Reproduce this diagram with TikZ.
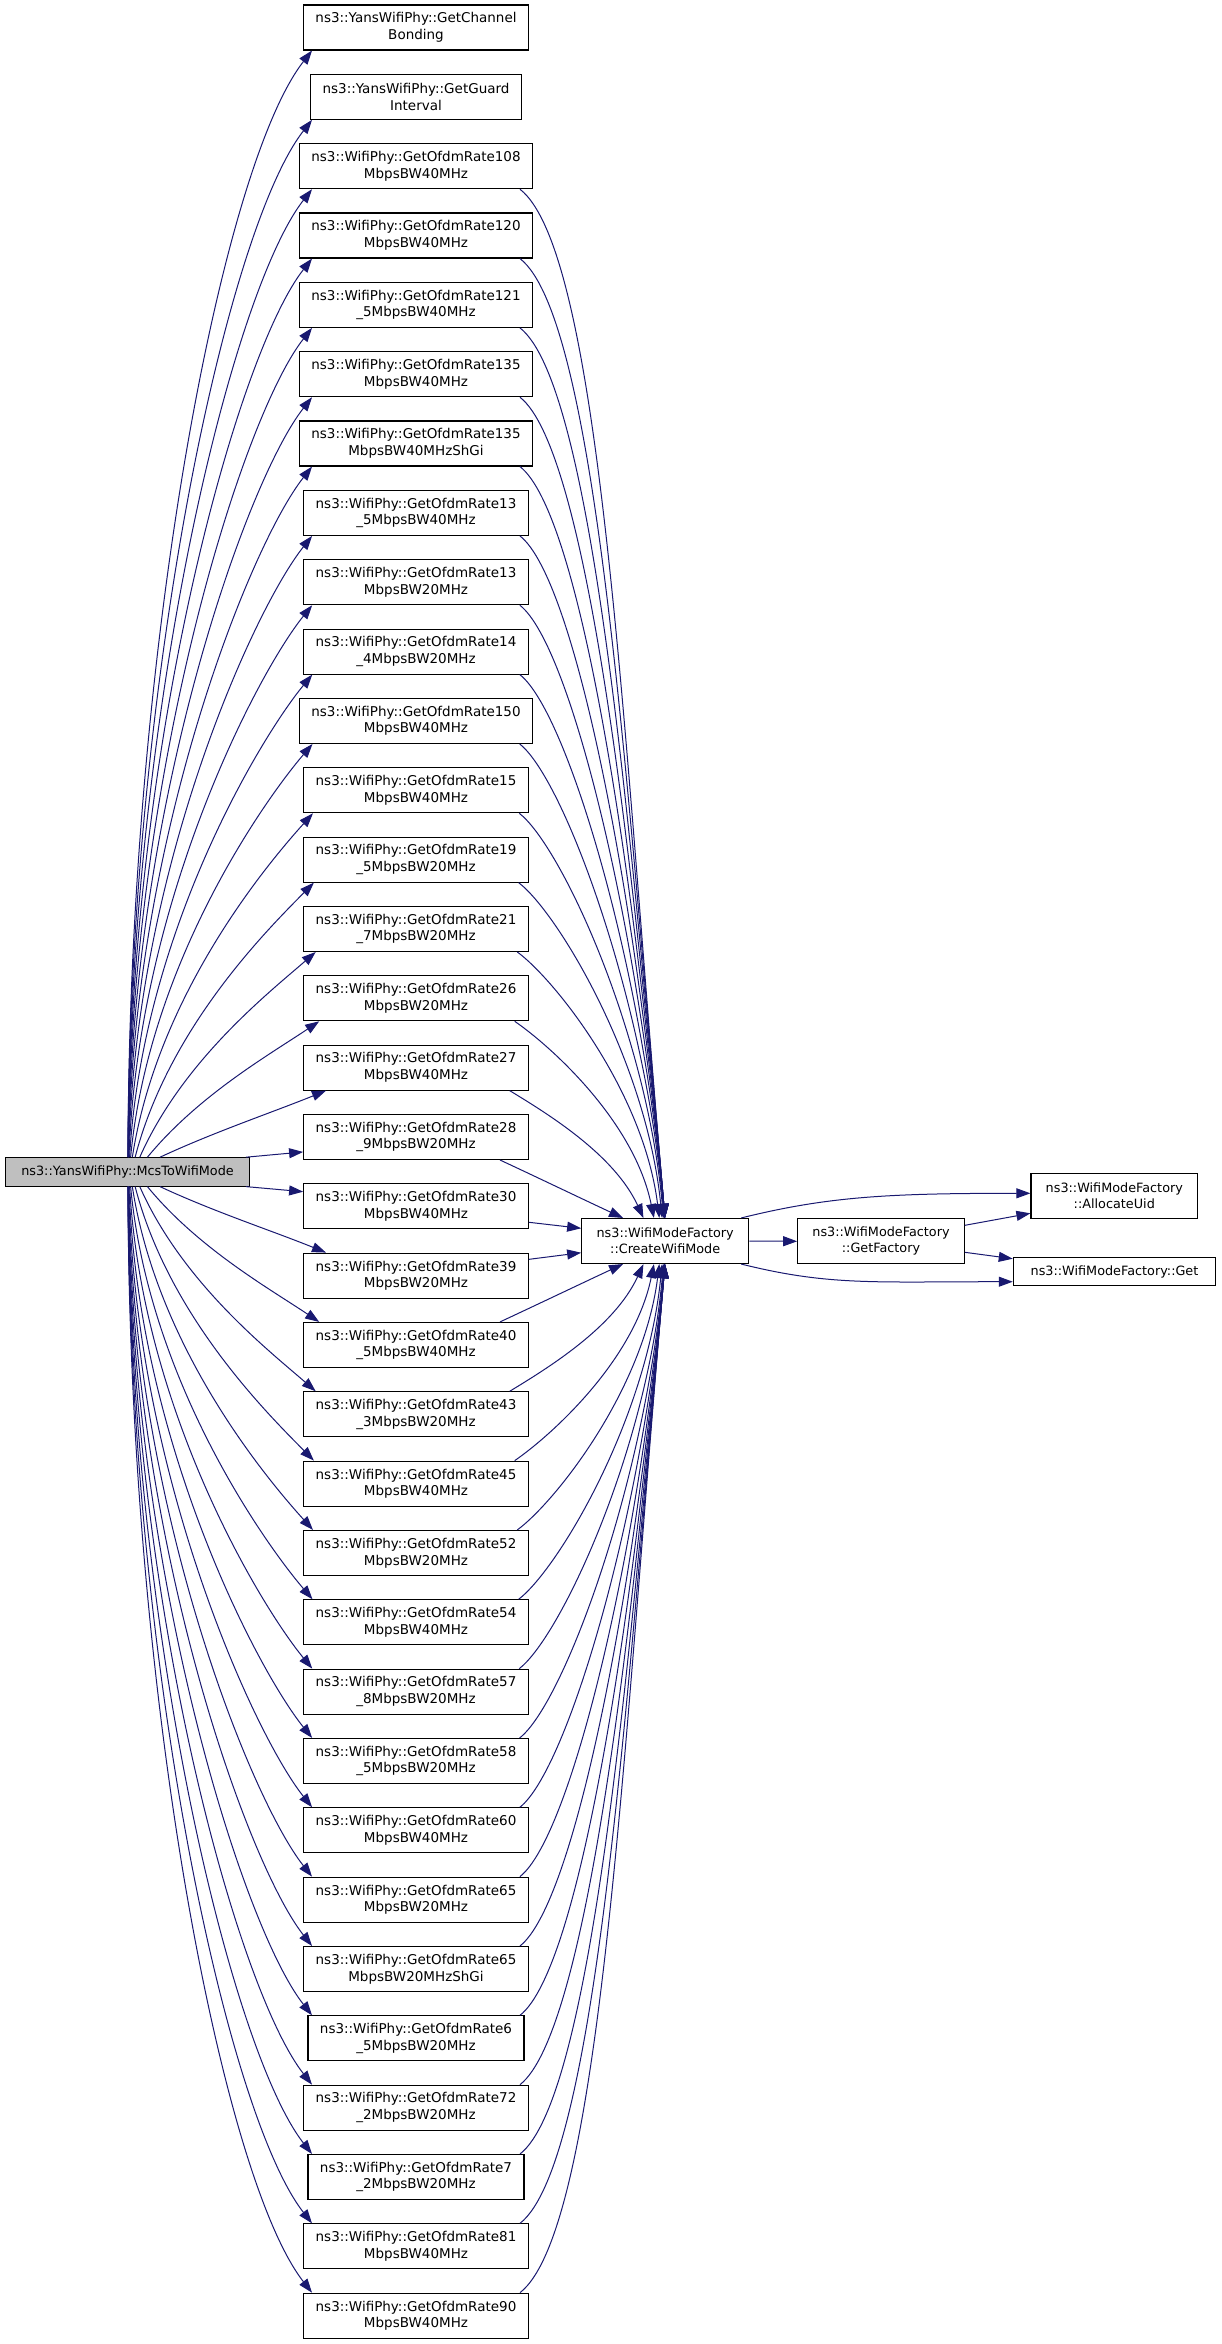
\documentclass[tikz,border=0pt]{standalone}
\usepackage{fontspec}
\setmainfont{DejaVu Sans}
\usetikzlibrary{arrows.meta,calc}
\definecolor{edgec}{HTML}{191970}
\definecolor{lgray}{HTML}{BFBFBF}
\begin{document}
\begin{tikzpicture}[x=1pt,y=1pt,
  box/.style={draw=black, line width=1.1pt, fill=white, align=center, inner xsep=12pt, inner ysep=0pt, minimum height=45pt, font=\fontsize{13.5}{16.7}\selectfont},
  sbox/.style={box, inner xsep=2pt, font=\fontsize{12.8}{16.2}\selectfont},
  edge/.style={draw=edgec, line width=1pt, -{Triangle[length=14pt,width=10pt]}}]
\useasboundingbox (0,0) rectangle (1221,-2344);

\node[sbox, fill=lgray, minimum width=243.6pt, minimum height=28.3pt] (L) at (127.5,-1171.9) {ns3::YansWifiPhy::McsToWifiMode};

\node[box] (B0) at (416,-27.5) {ns3::YansWifiPhy::GetChannel\\Bonding};
\node[box] (B1) at (416,-96.84) {ns3::YansWifiPhy::GetGuard\\Interval};
\node[box] (B2) at (416,-166.18) {ns3::WifiPhy::GetOfdmRate108\\MbpsBW40MHz};
\node[box] (B3) at (416,-235.52) {ns3::WifiPhy::GetOfdmRate120\\MbpsBW40MHz};
\node[box] (B4) at (416,-304.86) {ns3::WifiPhy::GetOfdmRate121\\\_5MbpsBW40MHz};
\node[box] (B5) at (416,-374.2) {ns3::WifiPhy::GetOfdmRate135\\MbpsBW40MHz};
\node[box] (B6) at (416,-443.54) {ns3::WifiPhy::GetOfdmRate135\\MbpsBW40MHzShGi};
\node[box] (B7) at (416,-512.88) {ns3::WifiPhy::GetOfdmRate13\\\_5MbpsBW40MHz};
\node[box] (B8) at (416,-582.22) {ns3::WifiPhy::GetOfdmRate13\\MbpsBW20MHz};
\node[box] (B9) at (416,-651.56) {ns3::WifiPhy::GetOfdmRate14\\\_4MbpsBW20MHz};
\node[box] (B10) at (416,-720.9) {ns3::WifiPhy::GetOfdmRate150\\MbpsBW40MHz};
\node[box] (B11) at (416,-790.24) {ns3::WifiPhy::GetOfdmRate15\\MbpsBW40MHz};
\node[box] (B12) at (416,-859.58) {ns3::WifiPhy::GetOfdmRate19\\\_5MbpsBW20MHz};
\node[box] (B13) at (416,-928.92) {ns3::WifiPhy::GetOfdmRate21\\\_7MbpsBW20MHz};
\node[box] (B14) at (416,-998.26) {ns3::WifiPhy::GetOfdmRate26\\MbpsBW20MHz};
\node[box] (B15) at (416,-1067.6) {ns3::WifiPhy::GetOfdmRate27\\MbpsBW40MHz};
\node[box] (B16) at (416,-1136.94) {ns3::WifiPhy::GetOfdmRate28\\\_9MbpsBW20MHz};
\node[box] (B17) at (416,-1206.28) {ns3::WifiPhy::GetOfdmRate30\\MbpsBW40MHz};
\node[box] (B18) at (416,-1275.62) {ns3::WifiPhy::GetOfdmRate39\\MbpsBW20MHz};
\node[box] (B19) at (416,-1344.96) {ns3::WifiPhy::GetOfdmRate40\\\_5MbpsBW40MHz};
\node[box] (B20) at (416,-1414.3) {ns3::WifiPhy::GetOfdmRate43\\\_3MbpsBW20MHz};
\node[box] (B21) at (416,-1483.64) {ns3::WifiPhy::GetOfdmRate45\\MbpsBW40MHz};
\node[box] (B22) at (416,-1552.98) {ns3::WifiPhy::GetOfdmRate52\\MbpsBW20MHz};
\node[box] (B23) at (416,-1622.32) {ns3::WifiPhy::GetOfdmRate54\\MbpsBW40MHz};
\node[box] (B24) at (416,-1691.66) {ns3::WifiPhy::GetOfdmRate57\\\_8MbpsBW20MHz};
\node[box] (B25) at (416,-1761.0) {ns3::WifiPhy::GetOfdmRate58\\\_5MbpsBW20MHz};
\node[box] (B26) at (416,-1830.34) {ns3::WifiPhy::GetOfdmRate60\\MbpsBW40MHz};
\node[box] (B27) at (416,-1899.68) {ns3::WifiPhy::GetOfdmRate65\\MbpsBW20MHz};
\node[box] (B28) at (416,-1969.02) {ns3::WifiPhy::GetOfdmRate65\\MbpsBW20MHzShGi};
\node[box] (B29) at (416,-2038.36) {ns3::WifiPhy::GetOfdmRate6\\\_5MbpsBW20MHz};
\node[box] (B30) at (416,-2107.7) {ns3::WifiPhy::GetOfdmRate72\\\_2MbpsBW20MHz};
\node[box] (B31) at (416,-2177.04) {ns3::WifiPhy::GetOfdmRate7\\\_2MbpsBW20MHz};
\node[box] (B32) at (416,-2246.38) {ns3::WifiPhy::GetOfdmRate81\\MbpsBW40MHz};
\node[box] (B33) at (416,-2315.72) {ns3::WifiPhy::GetOfdmRate90\\MbpsBW40MHz};

\node[sbox, minimum width=167pt] (C) at (665.2,-1241) {ns3::WifiModeFactory\\::CreateWifiMode};
\node[sbox, minimum width=166.6pt] (F) at (881,-1241.3) {ns3::WifiModeFactory\\::GetFactory};
\node[sbox, minimum width=166.7pt] (A) at (1114.3,-1196) {ns3::WifiModeFactory\\::AllocateUid};
\node[sbox, minimum width=202.4pt, minimum height=28pt] (G) at (1114.5,-1271.7) {ns3::WifiModeFactory::Get};

% left fan, upper
\foreach \i in {0,...,15} {
  \pgfmathsetmacro\kk{15-\i}
  \pgfmathsetmacro\eA{exp(-min(\kk/2,8))}
  \pgfmathsetmacro\eB{exp(-min(\kk/1.5,8))}
  \pgfmathsetmacro\eC{exp(-min(\kk/3,8))}
  \pgfmathsetmacro\sxa{128+32*\eA}
  \pgfmathsetmacro\exa{312+14*\eB}
  \pgfmathsetmacro\sxx{\sxa-127.5}
  \pgfmathsetmacro\exx{\exa-416}
  \pgfmathsetmacro\byy{27.5+69.34*\i+22.5}
  \pgfmathsetmacro\chh{100*veclen((\exa-\sxa)/100,(1157.8-\byy)/100)}
  \pgfmathsetmacro\aoo{90-65*\eA}
  \pgfmathsetmacro\aii{180+52-30*\eA}
  \pgfmathsetmacro\daa{\chh*(0.33+0.12*(1-\eC))}
  \pgfmathsetmacro\dbb{\chh*(0.33-0.2*(1-\eC))}
  \coordinate (ls\i) at ([xshift=\sxx pt]L.north);
  \coordinate (le\i) at ([xshift=\exx pt]B\i.south);
  \draw[edge] (ls\i) .. controls ($(ls\i)+(\aoo:\daa pt)$) and ($(le\i)+(\aii:\dbb pt)$) .. (le\i);
}
% left fan, lower
\foreach \i in {18,...,33} {
  \pgfmathsetmacro\kk{\i-18}
  \pgfmathsetmacro\eA{exp(-min(\kk/2,8))}
  \pgfmathsetmacro\eB{exp(-min(\kk/1.5,8))}
  \pgfmathsetmacro\eC{exp(-min(\kk/3,8))}
  \pgfmathsetmacro\sxa{128+32*\eA}
  \pgfmathsetmacro\exa{312+14*\eB}
  \pgfmathsetmacro\sxx{\sxa-127.5}
  \pgfmathsetmacro\exx{\exa-416}
  \pgfmathsetmacro\tyy{27.5+69.34*\i-22.5}
  \pgfmathsetmacro\chh{100*veclen((\exa-\sxa)/100,(\tyy-1186)/100)}
  \pgfmathsetmacro\aoo{-(90-65*\eA)}
  \pgfmathsetmacro\aii{180-(52-30*\eA)}
  \pgfmathsetmacro\daa{\chh*(0.33+0.12*(1-\eC))}
  \pgfmathsetmacro\dbb{\chh*(0.33-0.2*(1-\eC))}
  \coordinate (ls\i) at ([xshift=\sxx pt]L.south);
  \coordinate (le\i) at ([xshift=\exx pt]B\i.north);
  \draw[edge] (ls\i) .. controls ($(ls\i)+(\aoo:\daa pt)$) and ($(le\i)+(\aii:\dbb pt)$) .. (le\i);
}
\draw[edge] ([xshift=-4pt]L.north east) -- ([yshift=-15pt]B16.west);
\draw[edge] ([xshift=-4pt]L.south east) -- ([yshift=14.6pt]B17.west);

% right fan, upper
\foreach \i in {2,...,16} {
  \pgfmathsetmacro\kk{16-\i}
  \pgfmathsetmacro\eA{exp(-min(\kk/2,8))}
  \pgfmathsetmacro\eB{exp(-min(\kk/1.5,8))}
  \pgfmathsetmacro\eD{exp(-min(\kk/0.9,8))}
  \pgfmathsetmacro\sxa{500+20*(1-\eB)}
  \pgfmathsetmacro\exa{665-42*\eB}
  \pgfmathsetmacro\sxx{\sxa-416}
  \pgfmathsetmacro\exx{\exa-665.2}
  \pgfmathsetmacro\byy{27.5+69.34*\i+22.5}
  \pgfmathsetmacro\chh{100*veclen((\exa-\sxa)/100,(1218.5-\byy)/100)}
  \pgfmathsetmacro\aoo{-(25+13*(1-\eB))}
  \pgfmathsetmacro\aii{180-(85-60*\eD)}
  \pgfmathsetmacro\daa{\chh*(0.1+0.23*\eA)}
  \pgfmathsetmacro\dbb{\chh*(0.45-0.12*\eA)}
  \coordinate (rs\i) at ([xshift=\sxx pt]B\i.south);
  \coordinate (re\i) at ([xshift=\exx pt]C.north);
  \draw[edge] (rs\i) .. controls ($(rs\i)+(\aoo:\daa pt)$) and ($(re\i)+(\aii:\dbb pt)$) .. (re\i);
}
% right fan, lower
\foreach \i in {19,...,33} {
  \pgfmathsetmacro\kk{\i-19}
  \pgfmathsetmacro\eA{exp(-min(\kk/2,8))}
  \pgfmathsetmacro\eB{exp(-min(\kk/1.5,8))}
  \pgfmathsetmacro\eD{exp(-min(\kk/0.9,8))}
  \pgfmathsetmacro\sxa{500+20*(1-\eB)}
  \pgfmathsetmacro\exa{665-42*\eB}
  \pgfmathsetmacro\sxx{\sxa-416}
  \pgfmathsetmacro\exx{\exa-665.2}
  \pgfmathsetmacro\tyy{27.5+69.34*\i-22.5}
  \pgfmathsetmacro\chh{100*veclen((\exa-\sxa)/100,(\tyy-1263.5)/100)}
  \pgfmathsetmacro\aoo{25+13*(1-\eB)}
  \pgfmathsetmacro\aii{180+(85-60*\eD)}
  \pgfmathsetmacro\daa{\chh*(0.1+0.23*\eA)}
  \pgfmathsetmacro\dbb{\chh*(0.45-0.12*\eA)}
  \coordinate (rs\i) at ([xshift=\sxx pt]B\i.north);
  \coordinate (re\i) at ([xshift=\exx pt]C.south);
  \draw[edge] (rs\i) .. controls ($(rs\i)+(\aoo:\daa pt)$) and ($(re\i)+(\aii:\dbb pt)$) .. (re\i);
}
\draw[edge] ([yshift=-16pt]B17.east) -- ([yshift=12.7pt]C.west);
\draw[edge] ([yshift=16.3pt]B18.east) -- ([yshift=-11.7pt]C.west);

% right part
\draw[edge] (C.east) -- (F.west);
\draw[edge] ([xshift=-8pt]C.north east) .. controls +(14:90pt) and +(-140pt,0pt) .. ([yshift=2.7pt]A.west);
\draw[edge] ([xshift=-8pt]C.south east) .. controls +(-14:90pt) and +(-140pt,0pt) .. ([yshift=-10pt]G.west);
\draw[edge] ([yshift=16pt]F.east) -- ([yshift=-17.3pt]A.west);
\draw[edge] ([yshift=-11pt]F.east) -- ([yshift=13pt]G.west);
\end{tikzpicture}
\end{document}
